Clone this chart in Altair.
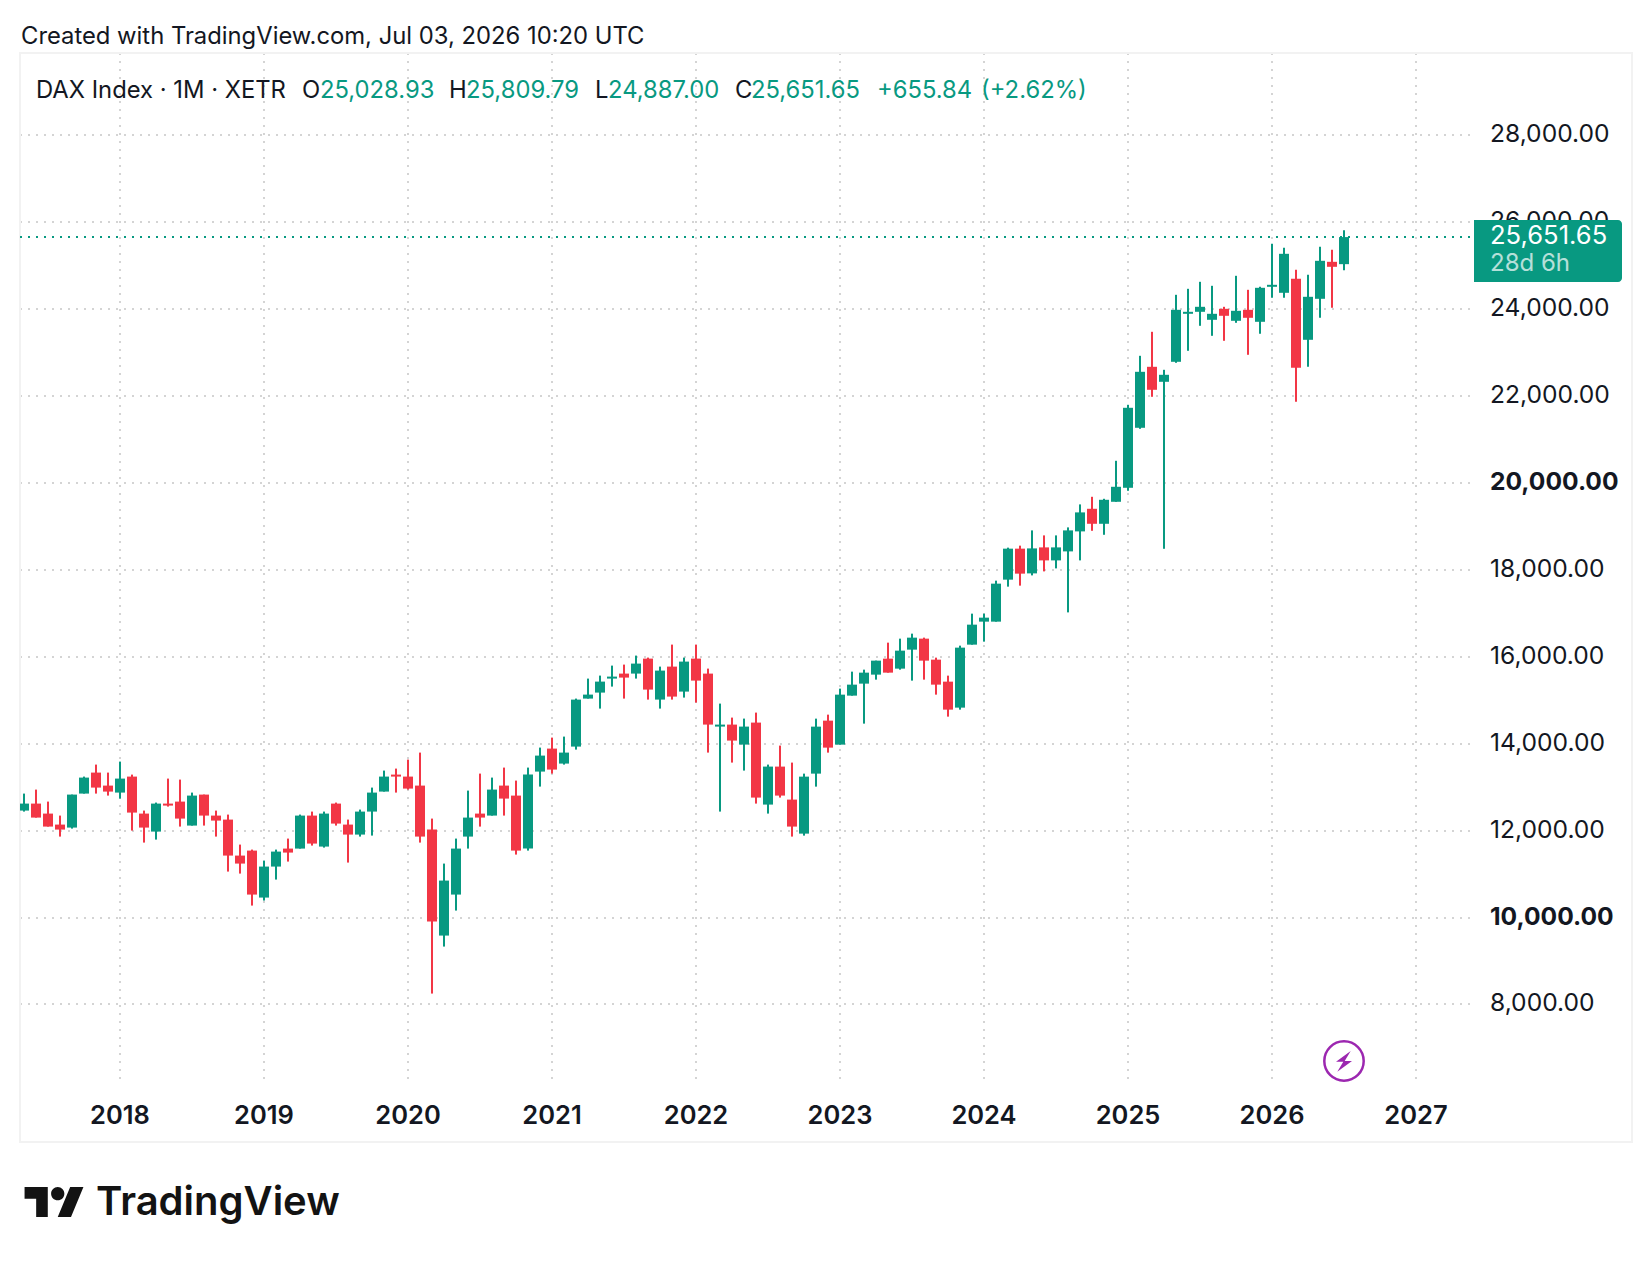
import altair as alt
import pandas as pd

FONT = "Inter"
GREEN = "#089981"
RED = "#F23645"
INK = "#131722"
GRID = "#d4d4d4"

opens = [12460,12621,12391,12138,12069,12851,13334,13035,12874,13242,12391,11977,12621,12667,12115,12828,
         12345,12253,11425,11540,10459,11172,11586,11586,12345,11632,12621,12138,11908,12437,12897,13288,
         13242,13035,12023,9585,10528,11862,12391,12345,13035,12805,11586,13357,13886,13541,13932,15036,
         15174,15496,15611,15611,15956,15013,15772,15197,15956,15611,14392,14438,13978,14484,12598,13472,12713,
         11930,13310,14529,13977,15104,15380,15587,15955,15725,16162,16415,15932,15426,14828,16277,16806,16806,
         17772,18485,17916,18514,18215,18422,18882,19402,19057,19563,19885,21265,22668,22323,22783,23887,23933,
         23749,24002,23726,23979,23703,24508,24370,24692,23289,24232,25083,25028.93]
closes = [12621,12299,12092,12023,12828,13219,12989,12897,13196,12414,12069,12621,12575,12276,12805,12345,
          12230,11425,11241,10528,11172,11517,11494,12345,11701,12391,12161,11908,12437,12874,13242,13242,
          12966,11862,9907,10850,11586,12299,12299,12943,12736,11540,13288,13725,13403,13794,15013,15128,
          15427,15542,15519,15841,15243,15680,15082,15887,15450,14438,14438,14070,14392,12759,13472,12805,12092,
          13241,14391,13908,15127,15357,15633,15909,15633,16139,16438,15909,15357,14782,16208,16737,16898,17680,
          18485,17910,18491,18215,18514,18905,19319,19057,19609,19908,21725,22553,22139,22484,23979,23933,24048,
          23887,23841,23956,23795,24485,24554,25267,22645,24278,25106,24968,25651.65]
highs = [12851,12943,12667,12345,12828,13242,13518,13334,13587,13288,12460,12644,13196,13173,12874,12828,
         12460,12368,11678,11563,11310,11563,11816,12368,12437,12437,12644,12253,12483,12989,13380,13426,
         13633,13794,12276,11241,11816,12920,13311,13219,13449,13150,13449,13909,14139,14162,15036,15496,
         15565,15795,15818,16025,15979,15772,16278,15979,16278,15726,14921,14599,14576,14714,13518,13955,13564,
         13310,14575,14667,15265,15656,15702,15909,16323,16415,16530,16438,15978,15564,16254,16990,16990,17749,
         18508,18554,18905,18790,18790,18974,19503,19678,19632,20506,21794,22921,23473,22599,24324,24462,24623,
         24531,24048,24761,24439,24508,25497,25405,24899,24784,25428,25359,25809.79]
lows = [12437,12299,12092,11862,12046,12851,12851,12805,12736,12000,11724,11793,12552,12092,12115,12115,
        11862,11057,11011,10275,10390,10873,11287,11586,11655,11609,12115,11264,11862,11885,12897,12874,
        12943,11724,8251,9332,10160,11586,12092,12345,12345,11448,11540,13012,13311,13518,13863,15036,
        14806,15312,15036,15496,15013,14806,15013,15059,14944,13794,12437,13564,13380,12621,12391,12759,11862,
        11884,13011,13793,13977,15104,14460,15472,15633,15702,15449,15472,15127,14621,14782,16277,16346,16806,
        17611,17634,17870,17962,18031,17019,18215,18896,18804,19563,19816,21242,21978,18482,22760,23036,23611,
        23381,23266,23680,22944,23427,24255,24255,21863,22668,23795,24025,24887]

months = pd.period_range("2017-05", "2026-07", freq="M")
assert len(months) == len(opens) == len(closes) == len(highs) == len(lows), (len(months), len(opens), len(closes), len(highs), len(lows))

year_ticks = [2018, 2019, 2020, 2021, 2022, 2023, 2024, 2025, 2026, 2027]
price_ticks = [8000, 10000, 12000, 14000, 16000, 18000, 20000, 22000, 24000, 26000, 28000]
bold_prices = [10000, 20000]

df = pd.DataFrame({
    "idx": [(m.year - 2018) * 12 + m.month - 1 for m in months],
    "open": opens, "high": highs, "low": lows, "close": closes,
})
df["up"] = df["close"] >= df["open"]

x_scale = alt.Scale(domain=[-8.3333, 112.5], nice=False, zero=False, padding=0)
y_scale = alt.Scale(domain=[6263, 29886], nice=False, zero=False, padding=0)

x_axis = alt.Axis(
    title=None, values=[(y - 2018) * 12 for y in year_ticks],
    labelExpr="'' + (2018 + datum.value / 12)",
    grid=True, gridColor=GRID, gridDash=[2, 6], gridWidth=2, translate=0,
    domain=False, ticks=False, labelPadding=24, labelFont=FONT, labelFontSize=25.5,
    labelFontWeight=600, labelColor=INK, labelOverlap=False, labelFlush=False, labelBound=False,
)
y_axis = alt.Axis(
    title=None, orient="right", values=price_ticks, format=",.2f",
    grid=True, gridColor=GRID, gridDash=[2, 6], gridWidth=2, translate=0,
    domain=False, ticks=False, labelPadding=20, labelFont=FONT, labelFontSize=24.6,
    labelFontWeight=alt.expr("datum.value == %d || datum.value == %d ? 700 : 400" % tuple(bold_prices)),
    labelColor=INK, labelAlign="left", labelOverlap=False, labelBound=False,
)
color = alt.Color("up:N", scale=alt.Scale(domain=[True, False], range=[GREEN, RED]), legend=None)

frame = alt.Chart(df.head(1)).mark_rect(fillOpacity=0, stroke="#f2f2f2", strokeWidth=2).encode(
    x=alt.value(0), x2=alt.value(1612), y=alt.value(0), y2=alt.value(1089))

wicks = alt.Chart(df).mark_rule(strokeWidth=2, clip=True).encode(
    x=alt.X("idx:Q", scale=x_scale, axis=x_axis),
    y=alt.Y("low:Q", scale=y_scale, axis=y_axis),
    y2="high:Q", color=color)

bodies = alt.Chart(df).mark_bar(size=10, clip=True).encode(
    x=alt.X("idx:Q", scale=x_scale, axis=x_axis),
    y=alt.Y("open:Q", scale=y_scale, axis=y_axis),
    y2="close:Q", color=color)

last = df.tail(1)
price_line = alt.Chart(last).mark_rule(color=GREEN, strokeWidth=2, strokeDash=[2, 6]).encode(
    y=alt.Y("close:Q", scale=y_scale, axis=y_axis))

tag = alt.Chart(last).mark_rect(fill=GREEN, cornerRadiusTopRight=4, cornerRadiusBottomRight=4).encode(
    x=alt.value(1454), x2=alt.value(1602), y=alt.value(167), y2=alt.value(229))


def label(text, px, py, size=23.8, col=INK, weight=400, opacity=1):
    return alt.Chart(last).mark_text(
        text=text, align="left", baseline="middle", font=FONT, fontSize=size,
        color=col, fontWeight=weight, opacity=opacity,
    ).encode(x=alt.value(px - 20), y=alt.value(py - 53))


texts = [
    label("Created with TradingView.com, Jul 03, 2026 10:20 UTC", 21, 37),
    label("DAX Index · 1M · XETR", 36, 91),
    label("O", 302, 91), label("25,028.93", 320, 91, col=GREEN),
    label("H", 449, 91), label("25,809.79", 466, 91, col=GREEN),
    label("L", 595, 91), label("24,887.00", 608, 91, col=GREEN),
    label("C", 735, 91), label("25,651.65", 751, 91, col=GREEN),
    label("+655.84", 877, 91, col=GREEN), label("(+2.62%)", 981, 91, col=GREEN),
    label("25,651.65", 1490, 236, size=25.6, col="white"),
    label("28d 6h", 1490, 264, size=24, col="white", opacity=0.7),
    label("TradingView", 96, 1203, size=40, col="#131313", weight=600),
]

LOGO = ("M-3.75,9H-10.75V-2H-17.75V-9H-3.75Z"
        "M10.25,9H2.25L9.75,-9H17.75Z"
        "M-1.75,-5a4,4 0 1,0 8,0a4,4 0 1,0 -8,0Z")
logo = alt.Chart(last).mark_point(shape=LOGO, filled=True, fill="#131313", stroke=None, size=11, opacity=1).encode(
    x=alt.value(34), y=alt.value(1149))

ring = alt.Chart(last).mark_point(shape="circle", filled=False, stroke="#9C27B0", strokeWidth=2.5, size=1552, opacity=1).encode(
    x=alt.value(1324), y=alt.value(1008))
BOLT = "M6.7,-10L-8,0.7H-0.7L-6.7,10.7L8,0H0.7Z"
bolt = alt.Chart(last).mark_point(shape=BOLT, filled=True, fill="#9C27B0", stroke=None, size=4, opacity=1).encode(
    x=alt.value(1324), y=alt.value(1008))

chart = alt.layer(frame, wicks, bodies, price_line, tag, *texts, logo, ring, bolt).properties(
    width=1450, height=1027,
    padding={"left": 12, "top": 45, "right": 170, "bottom": 170},
    autosize=alt.AutoSizeParams(type="none"),
    background="white",
).configure_view(stroke=None)

chart.save("out.html", embed_options={"renderer": "svg", "actions": False})
